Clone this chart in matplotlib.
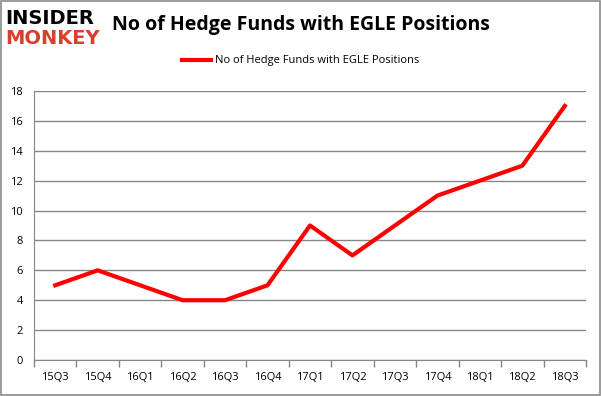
import matplotlib
matplotlib.use("Agg")
import matplotlib.pyplot as plt
from matplotlib.patches import Rectangle

quarters = ["15Q3", "15Q4", "16Q1", "16Q2", "16Q3", "16Q4", "17Q1",
            "17Q2", "17Q3", "17Q4", "18Q1", "18Q2", "18Q3"]
funds = [5, 6, 5, 4, 4, 5, 9, 7, 9, 11, 12, 13, 17]
yticks = [0, 2, 4, 6, 8, 10, 12, 14, 16, 18]

TITLE = "No of Hedge Funds with EGLE Positions"
LINECOLOR = "#ff0000"
GRIDCOLOR = "#868686"
FONT = ["Open Sans", "DejaVu Sans"]

fig = plt.figure(figsize=(6.01, 3.96), dpi=100)
fig.patch.set_facecolor("white")
# thin gray frame round the whole picture
fig.patches.append(Rectangle((0.001, 0.002), 0.997, 0.995, transform=fig.transFigure,
                             fill=False, edgecolor="#8a8a8a", lw=1.2))

# plot area: x 34..586 px, y 91..360 px
ax = fig.add_axes([34 / 601, 1 - 360 / 396, (586 - 34) / 601, (360 - 91) / 396])
xs = list(range(len(quarters)))
line, = ax.plot(xs, funds, color=LINECOLOR, lw=3, solid_joinstyle="round",
                label=TITLE)

ax.set_xlim(-0.5, len(quarters) - 0.5)
ax.set_ylim(0, 18)
ax.set_yticks(yticks)
ax.set_yticklabels([str(v) for v in yticks], fontsize=8, family=FONT)
ax.set_xticks(xs)
ax.set_xticklabels(quarters, fontsize=8, family=FONT)
ax.tick_params(axis="x", length=0, pad=9)
ax.tick_params(axis="y", length=0, pad=8)
# tick marks between categories
ax.set_xticks([x - 0.5 for x in range(len(quarters) + 1)], minor=True)
ax.tick_params(axis="x", which="minor", length=5, color=GRIDCOLOR, width=1)

ax.yaxis.grid(True, color=GRIDCOLOR, lw=1)
ax.set_axisbelow(True)
for side in ["top", "right"]:
    ax.spines[side].set_visible(False)
ax.spines["left"].set_color(GRIDCOLOR)
ax.spines["bottom"].set_color(GRIDCOLOR)

fig.text(0.5, 1 - 25 / 396, TITLE, ha="center", va="center", fontsize=14,
         fontweight="bold", family=FONT)
fig.legend(handles=[line], loc="center", bbox_to_anchor=(0.5, 1 - 61 / 396),
           frameon=False, prop={"family": FONT, "size": 8},
           handlelength=2.6, handletextpad=0.4)

# logo
fig.text(5 / 601, 1 - 18 / 396, "INSIDER", ha="left", va="center", fontsize=14,
         fontweight="black", family=["DejaVu Sans"], color="black")
fig.text(5 / 601, 1 - 39 / 396, "MONKEY", ha="left", va="center", fontsize=14,
         fontweight="black", family=["DejaVu Sans"], color="#d7402b")

fig.savefig("out.png", dpi=100)
